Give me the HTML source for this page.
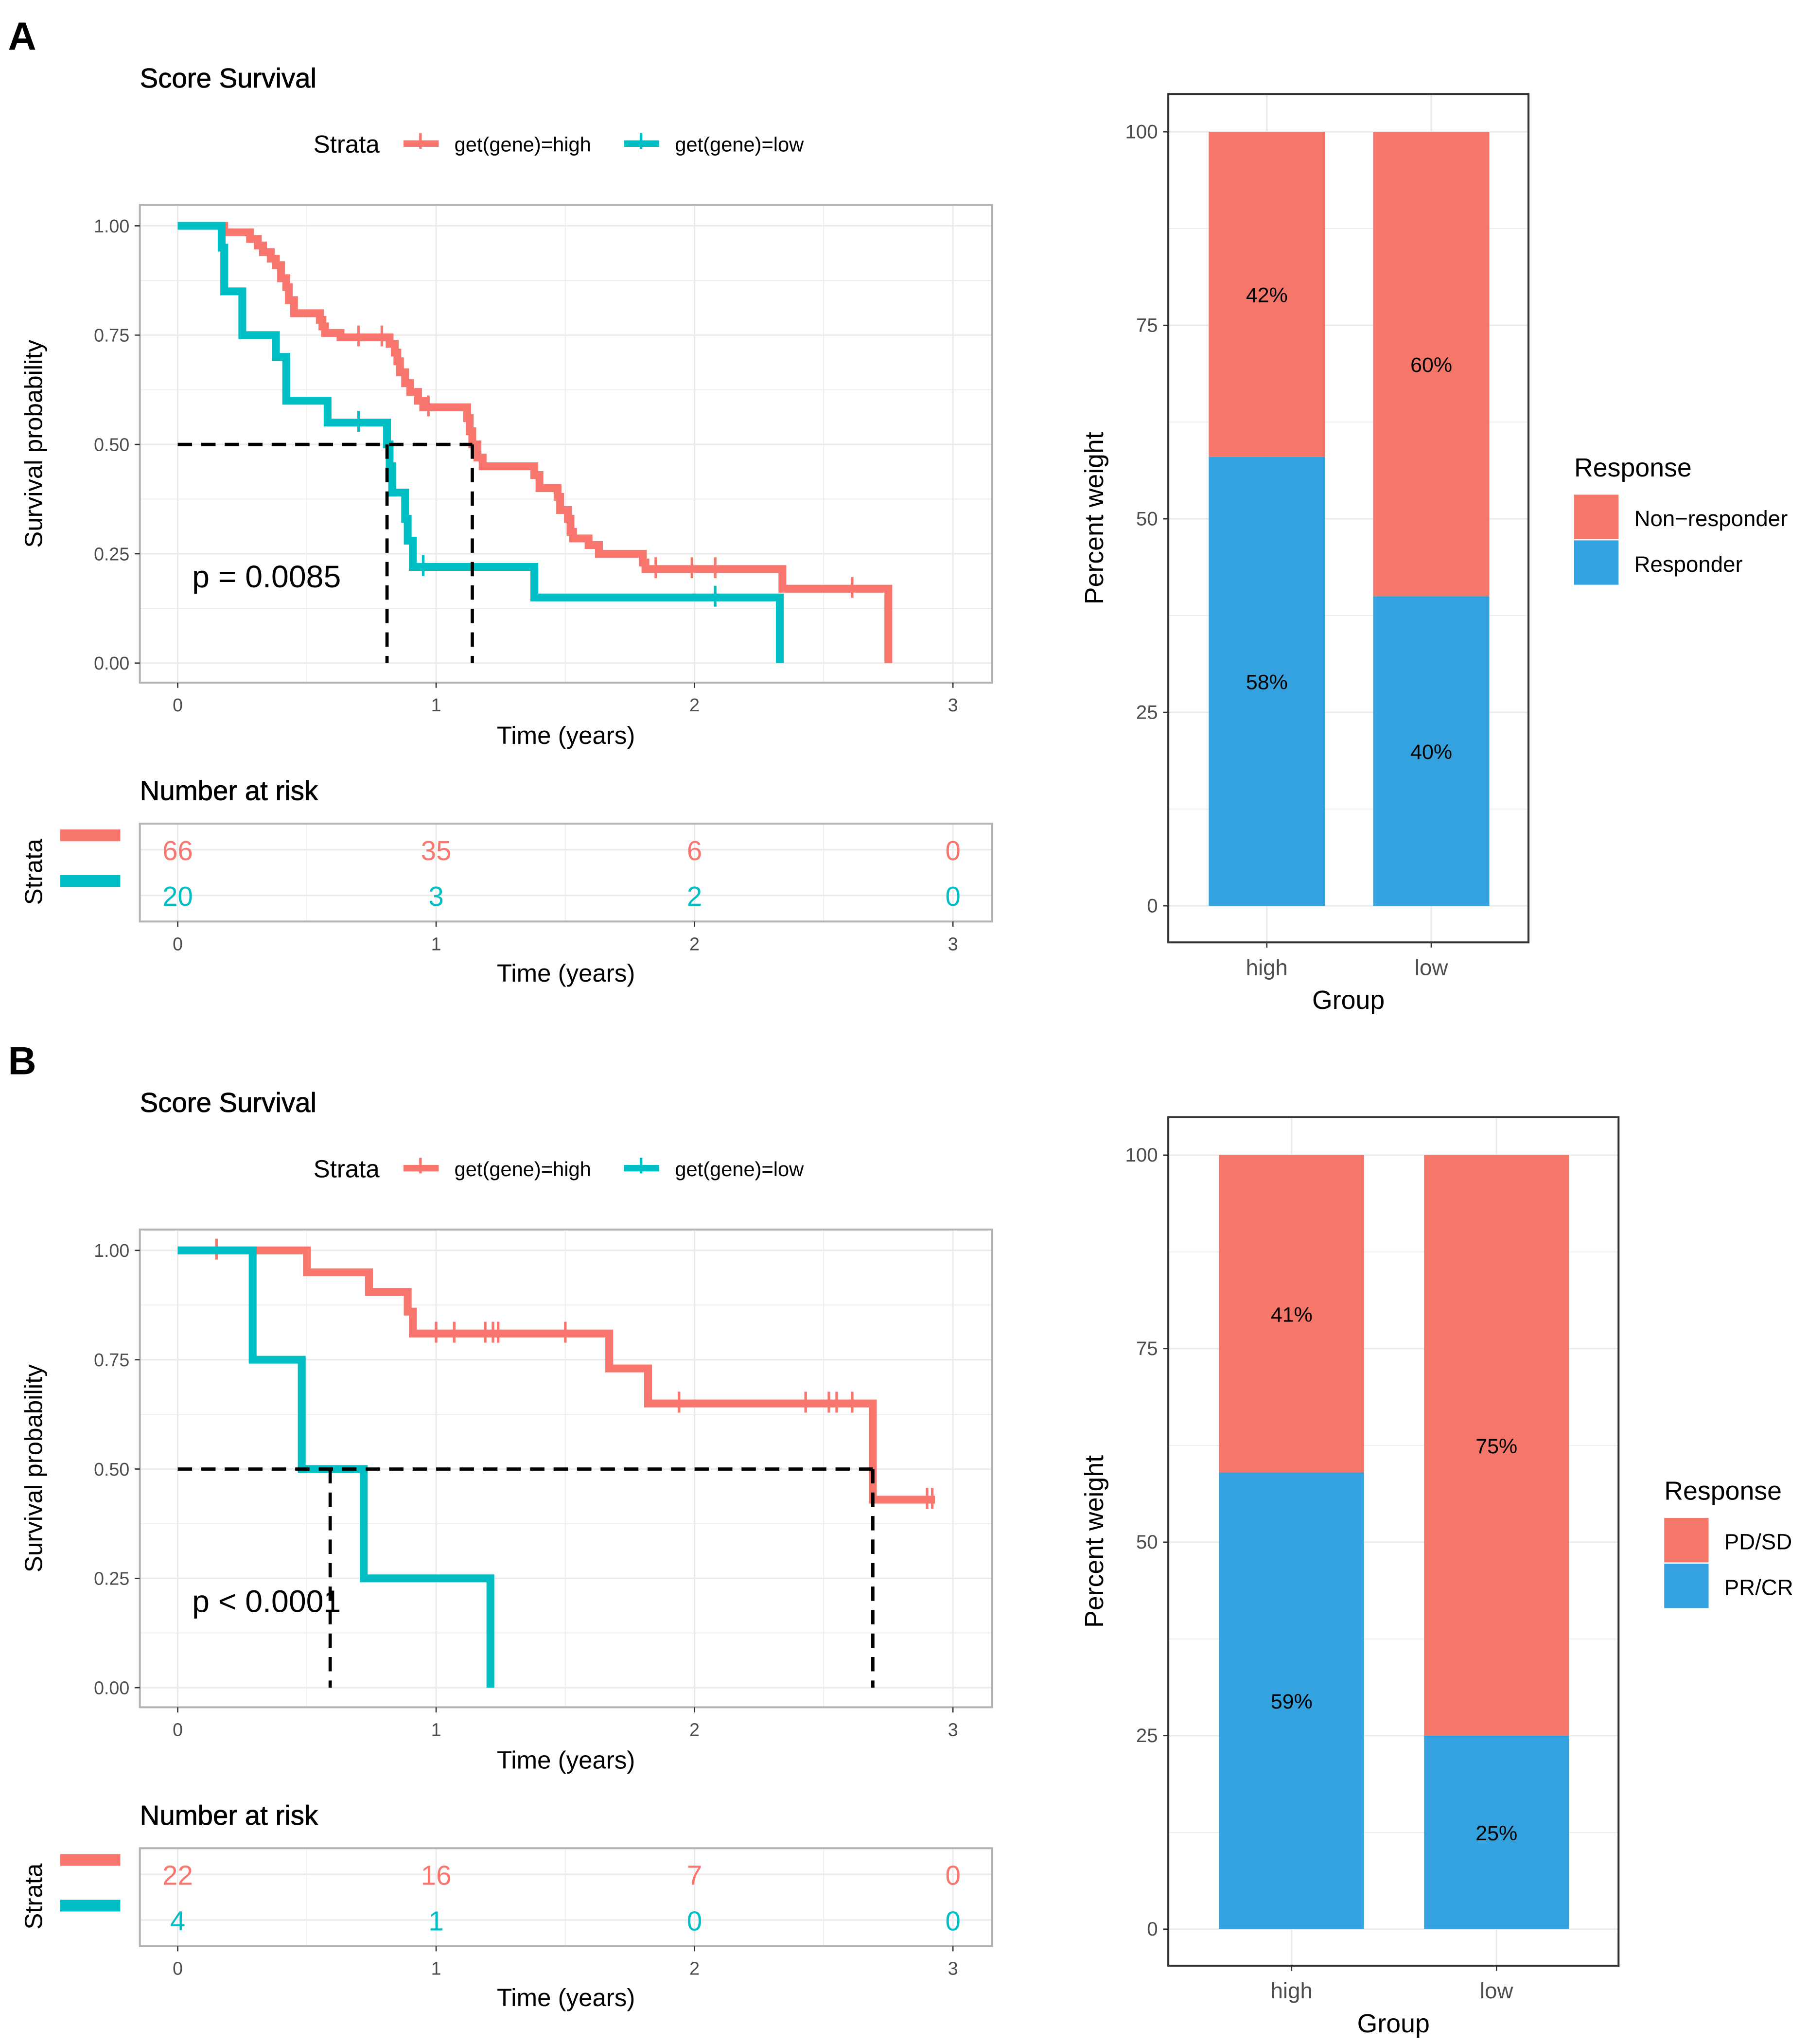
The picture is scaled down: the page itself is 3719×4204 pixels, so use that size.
<!DOCTYPE html>
<html><head><meta charset="utf-8">
<style>
html,body{margin:0;padding:0;background:#fff;}
svg{display:block;}
text{font-family:"Liberation Sans",Arial,sans-serif;}
</style></head>
<body>
<svg id="fig" width="3719" height="4204" viewBox="0 0 1385 1566" xmlns="http://www.w3.org/2000/svg">
<rect width="1385" height="1566" fill="#fff"/>
<g id="root"></g>
</svg>
<script>
// ---------- DATA ----------
const kmA_high_t=[0,0.18,0.28,0.31,0.33,0.36,0.38,0.40,0.42,0.43,0.45,0.55,0.56,0.57,0.63,0.82,0.84,0.85,0.86,0.88,0.90,0.93,0.95,1.12,1.13,1.14,1.16,1.18,1.38,1.40,1.47,1.48,1.51,1.52,1.53,1.59,1.63,1.80,1.81,2.34,2.75];
const kmA_high_s=[1,0.985,0.97,0.955,0.94,0.925,0.91,0.88,0.86,0.83,0.80,0.785,0.77,0.755,0.745,0.73,0.71,0.69,0.665,0.64,0.62,0.60,0.585,0.56,0.53,0.50,0.47,0.45,0.43,0.40,0.38,0.35,0.33,0.30,0.285,0.27,0.25,0.23,0.215,0.17,0];
const kmA_high_end=2.75;
const kmA_high_cens=[0.70,0.79,0.97,1.85,1.99,2.08,2.61];
const kmA_low_t=[0,0.17,0.18,0.25,0.38,0.42,0.58,0.81,0.82,0.83,0.88,0.89,0.91,1.38,2.33];
const kmA_low_s=[1,0.95,0.85,0.75,0.70,0.60,0.55,0.50,0.45,0.39,0.33,0.28,0.22,0.15,0];
const kmA_low_end=2.33;
const kmA_low_cens=[0.70,0.95,2.08];
const kmA_medians=[0.81,1.14];
const kmA_p="p = 0.0085";
const riskA_high=[66,35,6,0];
const riskA_low=[20,3,2,0];

const kmB_high_t=[0,0.50,0.74,0.89,0.91,1.67,1.82,2.69];
const kmB_high_s=[1,0.95,0.905,0.86,0.81,0.73,0.65,0.43];
const kmB_high_end=2.93;
const kmB_high_cens=[0.15,1.0,1.07,1.19,1.22,1.24,1.5,1.94,2.43,2.52,2.55,2.61,2.9,2.92];
const kmB_low_t=[0,0.29,0.48,0.72,1.21];
const kmB_low_s=[1,0.75,0.50,0.25,0];
const kmB_low_end=1.21;
const kmB_low_cens=[];
const kmB_medians=[0.59,2.69];
const kmB_p="p < 0.0001";
const riskB_high=[22,16,7,0];
const riskB_low=[4,1,0,0];

const timeTicks=[0,1,2,3];
const survTicks=[0,0.25,0.5,0.75,1];
const survTickLabels=["0.00","0.25","0.50","0.75","1.00"];
const pctTicks=[0,25,50,75,100];
const groups=["high","low"];
const barA_responder=[58,40];
const barA_nonresp=[42,60];
const barA_legend=["Non\u2212responder","Responder"];
const barB_responder=[59,25];
const barB_nonresp=[41,75];
const barB_legend=["PD/SD","PR/CR"];

// ---------- HELPERS ----------
const NS="http://www.w3.org/2000/svg";
const root=document.getElementById('root');
function el(tag,attrs,parent,txt){const e=document.createElementNS(NS,tag);for(const k in attrs)e.setAttribute(k,attrs[k]);if(txt!==undefined)e.textContent=txt;(parent||root).appendChild(e);return e;}
const RED="#F8766D",TEAL="#00BFC4",BRED="#F4776A",BBLUE="#33A2DE",GRID="#EBEBEB",FRAME="#B3B3B3";

function kmPanel(oy,label,highT,highS,highEnd,highC,lowT,lowS,lowEnd,lowC,medians,ptxt,rH,rL){
  const g=el('g',{});
  
  
  const X0=136,XS=198,Y0=oy+508,YS=335;
  const sx=t=>X0+t*XS, sy=s=>Y0-s*YS;
  const pl=107,pr=760,pt=oy+157,pb=oy+523;
  const lab=el('text',{x:6,y:oy+38,'font-size':30,'font-weight':'bold'},g,label);
  
  
  const ttl=el('text',{x:107,y:oy+67,'font-size':21,'font-weight':500,stroke:'#000','stroke-width':0.3},g,'Score Survival');
  
  
  const lg=el('g',{},g);
  
  
  el('text',{x:240,y:oy+117,'font-size':19},lg,'Strata');
  el('line',{x1:309,y1:oy+110,x2:336,y2:oy+110,stroke:RED,'stroke-width':5},lg);
  el('line',{x1:322,y1:oy+102,x2:322,y2:oy+114,stroke:RED,'stroke-width':2},lg);
  el('text',{x:348,y:oy+116,'font-size':15.5},lg,'get(gene)=high');
  el('line',{x1:478,y1:oy+110,x2:505,y2:oy+110,stroke:TEAL,'stroke-width':5},lg);
  el('line',{x1:491,y1:oy+102,x2:491,y2:oy+114,stroke:TEAL,'stroke-width':2},lg);
  el('text',{x:517,y:oy+116,'font-size':15.5},lg,'get(gene)=low');
  const gr=el('g',{},g);
  
  
  for(let t=0.5;t<3.2;t+=0.5){el('line',{x1:sx(t),x2:sx(t),y1:pt,y2:pb,stroke:GRID,'stroke-width':Number.isInteger(t)?1.2:0.6},gr);}
  el('line',{x1:sx(0),x2:sx(0),y1:pt,y2:pb,stroke:GRID,'stroke-width':1.2},gr);
  for(let s=0;s<=1.001;s+=0.125){el('line',{x1:pl,x2:pr,y1:sy(s),y2:sy(s),stroke:GRID,'stroke-width':(Math.round(s*8)%2==0)?1.2:0.6},gr);}
  el('rect',{x:pl,y:pt,width:pr-pl,height:pb-pt,fill:'none',stroke:FRAME,'stroke-width':1.5},g);
  survTicks.forEach((s,i)=>{
    el('line',{x1:pl-4,x2:pl,y1:sy(s),y2:sy(s),stroke:'#333','stroke-width':1},g);
    el('text',{x:pl-8,y:sy(s)+5,'font-size':14,'text-anchor':'end',fill:'#4D4D4D'},g,survTickLabels[i]);
  });
  timeTicks.forEach(t=>{
    el('line',{x1:sx(t),x2:sx(t),y1:pb,y2:pb+4,stroke:'#333','stroke-width':1},g);
    el('text',{x:sx(t),y:pb+22,'font-size':14,'text-anchor':'middle',fill:'#4D4D4D'},g,String(t));
  });
  const yt=el('text',{x:0,y:0,'font-size':19,'text-anchor':'middle',transform:`translate(32,${(pt+pb)/2}) rotate(-90)`},g,'Survival probability');
  
  
  const xt=el('text',{x:(pl+pr)/2,y:pb+47,'font-size':19,'text-anchor':'middle'},g,'Time (years)');
  
  
  function curve(T,S,end,C,col,name){
    let d=`M${sx(T[0])},${sy(S[0])}`;
    for(let i=1;i<T.length;i++){d+=` H${sx(T[i])} V${sy(S[i])}`;}
    d+=` H${sx(end)}`;
    const p=el('path',{d:d,fill:'none',stroke:col,'stroke-width':6,'stroke-linejoin':'miter'},g);
    
    
    C.forEach(c=>{
      let s=S[0];for(let i=0;i<T.length;i++){if(T[i]<=c)s=S[i];}
      const m=el('line',{x1:sx(c),x2:sx(c),y1:sy(s)-9,y2:sy(s)+7,stroke:col,'stroke-width':2},g);
      
      
    });
  }
  curve(highT,highS,highEnd,highC,RED,'high-curve');
  curve(lowT,lowS,lowEnd,lowC,TEAL,'low-curve');
  const md=el('g',{stroke:'#000','stroke-width':2.5,'stroke-dasharray':'11,7',fill:'none'},g);
  
  
  el('line',{x1:sx(0),x2:sx(Math.max(...medians)),y1:sy(0.5),y2:sy(0.5)},md);
  medians.forEach(m=>el('line',{x1:sx(m),x2:sx(m),y1:sy(0.5),y2:sy(0)},md));
  const pv=el('text',{x:147,y:oy+450,'font-size':24},g,ptxt);
  
  
  const rt=el('g',{},g);
  
  
  el('text',{x:107,y:oy+613,'font-size':21,stroke:'#000','stroke-width':0.3},rt,'Number at risk');
  const rtop=oy+631,rbot=oy+706;
  for(let t=0.5;t<3.2;t+=0.5) el('line',{x1:sx(t),x2:sx(t),y1:rtop,y2:rbot,stroke:GRID,'stroke-width':Number.isInteger(t)?1.2:0.6},rt);
  el('line',{x1:sx(0),x2:sx(0),y1:rtop,y2:rbot,stroke:GRID,'stroke-width':1.2},rt);
  [651,686].forEach(y=>el('line',{x1:pl,x2:pr,y1:oy+y,y2:oy+y,stroke:GRID,'stroke-width':1.2},rt));
  el('rect',{x:pl,y:rtop,width:pr-pl,height:rbot-rtop,fill:'none',stroke:FRAME,'stroke-width':1.5},rt);
  timeTicks.forEach((t,i)=>{
    el('text',{x:sx(t),y:oy+659,'font-size':21,'text-anchor':'middle',fill:RED},rt,String(rH[i]));
    el('text',{x:sx(t),y:oy+694,'font-size':21,'text-anchor':'middle',fill:TEAL},rt,String(rL[i]));
    el('line',{x1:sx(t),x2:sx(t),y1:rbot,y2:rbot+4,stroke:'#333'},rt);
    el('text',{x:sx(t),y:rbot+22,'font-size':14,'text-anchor':'middle',fill:'#4D4D4D'},rt,String(t));
  });
  el('line',{x1:46,x2:92,y1:oy+640,y2:oy+640,stroke:RED,'stroke-width':9},rt);
  el('line',{x1:46,x2:92,y1:oy+675,y2:oy+675,stroke:TEAL,'stroke-width':9},rt);
  el('text',{x:0,y:0,'font-size':19,'text-anchor':'middle',transform:`translate(32,${oy+668}) rotate(-90)`},rt,'Strata');
  el('text',{x:(pl+pr)/2,y:rbot+46,'font-size':19,'text-anchor':'middle'},rt,'Time (years)');
}

function barPanel(oy,name,L,R,bars,resp,nonr,legTxt,legX){
  const g=el('g',{});
  
  
  const top=oy+72,bot=oy+722,Y0=oy+694,YS=5.93;
  const sy=v=>Y0-v*YS;
  pctTicks.forEach(v=>el('line',{x1:L,x2:R,y1:sy(v),y2:sy(v),stroke:GRID,'stroke-width':1.2},g));
  for(let v=12.5;v<100;v+=25) el('line',{x1:L,x2:R,y1:sy(v),y2:sy(v),stroke:GRID,'stroke-width':0.6},g);
  bars.forEach(b=>el('line',{x1:(b[0]+b[1])/2,x2:(b[0]+b[1])/2,y1:top,y2:bot,stroke:GRID,'stroke-width':1.2},g));
  groups.forEach((gname,i)=>{
    const [x1,x2]=bars[i];
    const r1=el('rect',{x:x1,y:sy(resp[i]),width:x2-x1,height:sy(0)-sy(resp[i]),fill:BBLUE},g);
    
    
    const r2=el('rect',{x:x1,y:sy(100),width:x2-x1,height:sy(resp[i])-sy(100),fill:BRED},g);
    
    
    el('text',{x:(x1+x2)/2,y:sy(resp[i]/2)+6,'font-size':16,'text-anchor':'middle'},g,resp[i]+'%');
    el('text',{x:(x1+x2)/2,y:sy(resp[i]+nonr[i]/2)+6,'font-size':16,'text-anchor':'middle'},g,nonr[i]+'%');
    el('line',{x1:(x1+x2)/2,x2:(x1+x2)/2,y1:bot,y2:bot+4,stroke:'#333'},g);
    el('text',{x:(x1+x2)/2,y:bot+25,'font-size':17,'text-anchor':'middle',fill:'#4D4D4D'},g,gname);
  });
  el('rect',{x:L,y:top,width:R-L,height:bot-top,fill:'none',stroke:'#333','stroke-width':1.5},g);
  pctTicks.forEach(v=>{
    el('line',{x1:L-4,x2:L,y1:sy(v),y2:sy(v),stroke:'#333'},g);
    el('text',{x:L-8,y:sy(v)+5,'font-size':15,'text-anchor':'end',fill:'#4D4D4D'},g,String(v));
  });
  const yt=el('text',{x:0,y:0,'font-size':20,'text-anchor':'middle',transform:`translate(845,${(top+bot)/2}) rotate(-90)`},g,'Percent weight');
  
  
  const xt=el('text',{x:(L+R)/2,y:bot+51,'font-size':20,'text-anchor':'middle'},g,'Group');
  
  
  const lg=el('g',{},g);
  
  
  el('text',{x:legX,y:oy+365,'font-size':20},lg,'Response');
  el('rect',{x:legX,y:oy+379,width:34,height:34,fill:BRED},lg);
  el('rect',{x:legX,y:oy+414,width:34,height:34,fill:BBLUE},lg);
  el('text',{x:legX+46,y:oy+403,'font-size':17},lg,legTxt[0]);
  el('text',{x:legX+46,y:oy+438,'font-size':17},lg,legTxt[1]);
}

kmPanel(0,'A',kmA_high_t,kmA_high_s,kmA_high_end,kmA_high_cens,kmA_low_t,kmA_low_s,kmA_low_end,kmA_low_cens,kmA_medians,kmA_p,riskA_high,riskA_low);
kmPanel(785,'B',kmB_high_t,kmB_high_s,kmB_high_end,kmB_high_cens,kmB_low_t,kmB_low_s,kmB_low_end,kmB_low_cens,kmB_medians,kmB_p,riskB_high,riskB_low);
barPanel(0,'bar-chart-a',895,1171,[[926,1015],[1052,1141]],barA_responder,barA_nonresp,barA_legend,1206);
barPanel(784,'bar-chart-b',895,1240,[[934,1045],[1091,1202]],barB_responder,barB_nonresp,barB_legend,1275);
</script>
</body></html>
